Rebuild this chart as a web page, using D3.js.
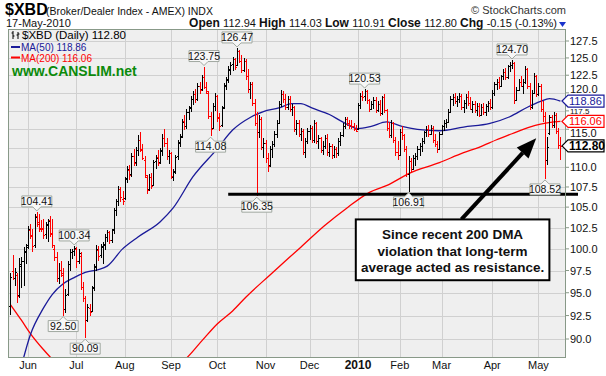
<!DOCTYPE html>
<html><head><meta charset="utf-8">
<script src="https://cdn.jsdelivr.net/npm/d3@7"></script>
<style>body{margin:0;background:#fff}svg{display:block}text{font-family:Arial,"Liberation Sans",sans-serif}</style>
</head><body><svg id="c" width="606" height="376"></svg>
<script>
// ---------- DATA ----------
const startDate = "2009-05-19", endDate = "2010-05-17";
const holidays = ["2009-05-25","2009-07-03","2009-09-07","2009-11-26","2009-12-25","2010-01-01","2010-01-18","2010-02-15","2010-04-02"];
const openP = [
93.5,97.4,96.6,97.0,94.8,98.0,98.6,99.6,100.4,102.2,
101.5,100.4,103.9,103.2,102.4,102.5,101.7,102.8,103.4,101.8,
100.0,99.0,96.6,97.6,97.0,93.2,94.9,98.2,99.6,99.8,
100.0,98.6,99.2,95.6,94.4,92.0,93.3,93.0,95.6,98.0,
99.9,99.3,100.2,100.6,101.4,102.0,101.0,102.3,104.7,105.8,
107.3,106.0,106.1,108.6,109.7,109.1,111.5,110.7,112.3,113.6,
112.3,111.0,108.8,107.2,108.8,107.8,110.8,111.3,110.7,112.2,
113.8,113.2,111.4,111.8,108.8,109.5,111.4,113.3,114.1,116.1,
115.4,117.3,118.0,119.2,119.9,119.1,121.0,120.6,122.3,120.8,
120.0,116.8,115.2,118.2,119.5,116.5,115.6,118.0,121.1,121.9,
123.3,124.1,124.8,124.0,126.0,124.6,123.3,124.6,122.4,120.6,
121.2,118.6,115.8,114.6,116.4,112.6,113.2,111.2,110.3,112.4,
113.1,114.4,115.9,118.5,119.9,119.2,118.1,119.2,117.8,118.0,
115.0,115.8,114.4,114.8,112.0,113.4,114.8,115.2,113.6,115.8,
113.4,113.8,112.2,112.8,113.9,112.0,112.8,111.6,112.4,111.8,
113.4,114.2,115.4,116.4,115.8,115.6,115.4,115.0,115.0,118.3,
119.6,119.5,120.2,119.0,117.8,118.4,119.0,117.6,118.5,117.2,
119.4,117.6,115.2,114.2,115.8,113.6,112.0,111.6,114.6,114.2,
112.4,109.2,110.8,109.8,111.2,111.5,112.4,112.8,113.5,114.6,
115.0,114.4,115.2,113.6,113.0,112.4,114.4,115.4,115.8,116.0,
117.4,119.2,119.4,118.8,119.2,119.6,118.0,118.6,119.4,118.6,
117.8,118.4,117.6,118.2,117.0,118.0,117.4,118.2,118.6,118.0,
120.0,121.2,121.6,121.0,122.4,123.0,122.2,123.8,124.0,124.3,
119.0,120.4,121.6,121.0,121.6,123.4,121.0,118.0,120.0,122.4,
119.8,121.0,117.8,116.8,111.0,114.5,116.6,115.6,116.9,114.8,
112.94];
const highP = [
97.2,99.3,97.8,97.2,98.9,99.0,100.2,100.6,102.7,103.0,
102.3,104.2,104.41,104.1,103.4,103.6,103.2,103.6,103.9,103.5,
100.4,99.6,98.4,98.6,97.8,95.4,98.6,100.0,100.0,100.34,
100.2,100.0,99.6,96.2,94.6,93.8,93.8,95.8,98.2,100.4,
100.3,100.6,100.8,101.8,102.2,102.1,102.4,104.9,106.0,107.6,
107.5,107.0,108.8,110.2,110.3,111.8,112.4,112.6,114.2,114.6,
113.0,111.4,109.0,109.2,109.3,111.0,111.6,112.2,112.5,114.4,
115.0,113.9,112.2,112.0,109.8,111.6,113.6,114.4,116.4,116.9,
117.8,118.2,119.6,120.2,120.6,121.4,121.6,122.5,123.75,121.6,
120.2,117.4,118.6,120.0,119.7,117.2,118.2,121.4,122.2,123.8,
124.4,125.2,125.0,126.47,126.2,125.4,125.0,124.8,123.4,121.6,
121.5,119.2,117.4,117.0,116.6,113.9,113.6,111.8,112.8,113.4,
114.8,116.2,118.8,120.4,120.2,119.8,119.6,119.6,118.4,118.2,
116.2,116.2,115.2,115.0,113.8,115.2,115.6,115.4,116.2,116.0,
114.2,114.0,113.4,114.2,114.4,113.2,113.0,112.8,112.6,113.8,
114.6,115.8,116.7,116.6,116.3,116.2,115.8,115.6,118.6,120.0,
120.3,120.53,120.4,119.2,118.8,119.4,119.4,118.8,119.0,119.6,
119.8,117.8,116.0,116.2,116.0,114.0,113.4,115.0,115.4,114.4,
112.8,111.4,111.2,111.6,111.8,112.8,113.2,113.8,114.8,115.4,
115.6,115.6,115.4,114.4,113.4,114.6,115.6,116.2,116.4,117.8,
119.6,119.8,120.0,119.6,120.0,119.8,119.0,119.8,120.2,119.4,
118.8,118.8,118.6,118.6,118.4,118.6,118.4,118.8,119.2,120.4,
121.6,122.0,122.2,122.6,123.4,123.6,124.0,124.4,124.70,124.4,
120.8,122.0,122.4,122.0,123.9,123.6,121.4,120.4,122.8,122.6,
121.4,121.2,118.8,117.4,114.0,117.0,117.0,117.4,117.2,115.2,
114.03];
const lowP = [
92.6,96.4,95.7,93.9,94.4,95.5,95.8,98.3,100.0,101.1,
99.6,100.1,102.6,102.0,102.0,101.2,101.2,100.8,101.4,100.1,
98.6,96.2,96.0,96.8,92.5,92.8,94.6,97.4,98.8,99.2,
97.8,98.2,95.3,94.0,90.09,91.8,92.4,92.9,95.2,97.4,
98.6,98.9,98.3,99.9,100.8,100.6,100.7,101.8,103.9,105.1,
105.6,105.2,105.9,108.0,108.4,108.7,110.2,110.2,111.4,112.0,
110.9,108.6,106.6,107.0,107.2,107.6,109.8,110.2,110.4,111.5,
112.6,111.0,110.4,108.5,108.2,109.1,111.0,112.6,113.8,114.9,
115.0,116.2,117.4,118.3,118.6,118.8,119.8,120.2,120.5,119.9,
116.4,114.08,115.0,117.5,116.0,114.8,115.3,117.8,120.4,121.4,
122.6,123.1,123.2,123.8,124.2,122.8,122.9,121.8,120.0,119.2,
118.2,115.4,106.35,113.8,112.2,111.2,110.6,109.4,110.0,111.2,
112.6,113.8,115.7,118.0,118.6,117.6,117.6,117.4,116.8,114.6,
114.2,114.0,113.4,111.6,111.2,113.0,113.6,113.2,113.2,113.0,
112.4,111.8,111.6,112.4,111.4,111.3,111.1,111.2,111.2,111.4,
112.8,114.0,115.0,115.4,115.0,115.1,114.8,114.6,114.9,117.8,
118.8,118.9,118.4,117.4,117.6,117.8,117.2,117.3,116.8,117.0,
117.2,114.8,113.8,113.8,113.2,111.4,111.0,111.4,113.6,112.0,
108.8,106.91,109.4,109.6,110.2,111.0,111.4,112.0,113.0,114.0,
114.0,114.2,113.2,112.6,111.8,112.2,114.2,114.8,115.2,115.8,
117.2,118.2,118.4,118.0,118.6,117.6,117.2,117.8,118.2,117.6,
117.2,117.2,116.8,116.6,116.8,117.0,116.8,117.4,117.6,117.8,
119.6,120.4,120.6,120.8,121.8,121.8,122.0,123.0,123.4,118.4,
118.8,120.2,120.8,119.8,121.2,120.6,117.6,117.8,119.8,119.4,
119.6,117.4,116.0,108.52,110.3,114.2,115.2,115.2,114.4,112.4,
110.91];
const closeP = [
96.8,96.6,97.3,94.6,98.2,98.6,99.8,100.2,102.4,101.6,
100.3,103.8,103.0,102.5,102.3,101.6,102.9,103.3,101.9,100.4,
99.0,96.6,97.6,97.2,93.2,94.8,98.2,99.6,99.8,100.1,
98.6,99.5,95.6,94.4,92.0,93.4,92.9,95.5,97.9,100.0,
99.2,100.3,100.5,101.4,102.0,101.0,102.2,104.6,105.7,107.2,
106.2,105.8,108.5,109.8,109.0,111.5,110.6,112.2,113.6,112.4,
111.2,109.0,107.1,108.8,107.6,110.7,111.2,110.6,112.1,113.9,
113.2,111.5,111.8,108.9,109.4,111.3,113.2,114.0,116.0,115.4,
117.4,117.9,119.2,119.8,119.1,121.0,120.4,122.2,120.8,120.2,
116.8,115.0,118.2,119.6,116.6,115.4,117.9,121.0,121.8,123.4,
124.0,124.8,123.7,126.0,124.6,123.2,124.6,122.4,120.6,121.2,
118.6,115.8,114.6,116.4,112.6,113.2,111.2,110.2,112.4,113.0,
114.4,115.8,118.5,119.9,119.2,118.0,119.2,117.8,118.0,115.0,
115.8,114.4,114.8,112.0,113.4,114.8,115.2,113.6,115.8,113.4,
113.8,112.2,112.8,113.9,112.0,112.8,111.6,112.4,111.8,113.4,
114.2,115.4,116.4,115.8,115.6,115.4,115.0,114.8,118.3,119.6,
119.4,120.2,119.0,117.8,118.4,119.0,117.6,118.5,117.2,119.4,
117.6,115.2,114.2,115.8,113.6,112.0,111.6,114.6,114.2,112.4,
109.2,110.8,109.8,111.2,111.5,112.4,112.8,113.5,114.6,115.0,
114.4,115.2,113.6,113.0,112.4,114.4,115.4,115.8,116.0,117.4,
119.2,119.4,118.8,119.2,119.6,118.0,118.6,119.4,118.6,117.8,
118.4,117.6,118.2,117.0,118.0,117.4,118.2,118.6,118.0,120.0,
121.2,121.6,121.0,122.4,123.0,122.2,123.8,124.0,124.3,119.0,
120.4,121.6,121.0,121.6,123.4,121.0,118.0,120.0,122.4,119.8,
121.0,117.8,116.8,111.0,112.6,116.6,115.6,116.9,114.8,112.95,
112.80];

const ma50Dates = ["2009-05-27","2009-06-02","2009-06-10","2009-06-16","2009-06-23","2009-06-30","2009-07-08","2009-07-16","2009-07-22","2009-07-31","2009-08-11","2009-08-25","2009-09-02","2009-09-16","2009-10-01","2009-10-12","2009-10-22","2009-10-30","2009-11-10","2009-11-18","2009-11-24","2009-12-02","2009-12-14","2009-12-22","2010-01-04","2010-01-12","2010-01-22","2010-02-02","2010-02-11","2010-02-26","2010-03-15","2010-03-31","2010-04-14","2010-04-26","2010-05-04","2010-05-10","2010-05-17"];
const ma50Values = [87.2,90.4,93.3,94.8,96.0,96.7,97.3,97.6,98.0,100.0,101.4,103.2,104.9,108.8,112.4,114.9,116.6,117.4,117.9,118.5,118.5,117.9,117.0,116.0,115.1,115.4,116.0,115.4,115.0,114.8,115.3,115.8,116.7,118.0,118.8,119.2,118.86];
const ma200Dates = ["2009-05-19","2009-05-27","2009-06-02","2009-06-10","2009-06-16","2009-07-01","2009-07-23","2009-08-13","2009-08-27","2009-09-11","2009-09-22","2009-10-01","2009-10-12","2009-10-20","2009-11-04","2009-11-24","2009-12-10","2009-12-24","2010-01-11","2010-01-25","2010-02-05","2010-02-26","2010-03-15","2010-03-24","2010-04-06","2010-04-15","2010-04-27","2010-05-04","2010-05-17"];
const ma200Values = [93.7,92.0,90.6,88.9,87.9,85.6,84.6,85.2,86.6,88.0,89.8,91.6,93.0,94.5,97.0,100.2,102.8,104.9,106.8,107.8,109.2,110.6,111.9,112.6,113.6,114.4,115.3,115.7,116.06];

const pivotDates  = ["2009-06-05","2009-06-30","2009-06-23","2009-07-08","2009-09-23","2009-10-14","2009-09-28","2009-10-27","2010-01-07","2010-02-05","2010-04-15","2010-05-06"];
const pivotValues = [104.41,100.34,92.50,90.09,123.75,126.47,114.08,106.35,120.53,106.91,124.70,108.52];
const pivotKinds  = ["high","high","low","low","high","high","low","low","high","low","high","low"];

const monthLabels = ["Jun","Jul","Aug","Sep","Oct","Nov","Dec","2010","Feb","Mar","Apr","May"];
const yTicks = [90,92.5,95,97.5,100,102.5,105,107.5,110,112.5,115,117.5,120,122.5,125,127.5];

const supportStart = "2009-10-08", supportValue = 106.6;
const noteBox = {from:"2009-12-31", to:"2010-05-10", top:103.5, bottom:96.4};
const noteLines = ["Since recent 200 DMA","violation that long-term","average acted as resistance."];
const arrowFrom = ["2010-03-12",103.5], arrowTo = ["2010-04-30",113.8];

// ---------- LAYOUT ----------
const svg = d3.select("#c");
const P = {l:8, t:29, r:566, b:358};
const parse = d3.utcParse("%Y-%m-%d"), fmt = d3.utcFormat("%Y-%m-%d");
const days = [];
for (let d = parse(startDate); d <= parse(endDate); d = d3.utcDay.offset(d,1)) {
  const wd = d.getUTCDay(), s = fmt(d);
  if (wd===0 || wd===6 || holidays.includes(s)) continue;
  days.push(s);
}
const x = d3.scalePoint().domain(days).range([10.4, 560.4]);
const y = d3.scaleLog().domain([90,127.5]).range([339,41]);

svg.append("rect").attr("width",606).attr("height",376).attr("fill","#fff");
svg.append("defs").append("clipPath").attr("id","clip").append("rect")
  .attr("x",P.l).attr("y",P.t).attr("width",P.r-P.l).attr("height",P.b-P.t);
svg.append("rect").attr("x",P.l).attr("y",P.t).attr("width",P.r-P.l).attr("height",P.b-P.t).attr("fill","#efefef");

// grid
const grid = svg.append("g").attr("clip-path","url(#clip)").attr("shape-rendering","crispEdges");
grid.selectAll(".hg").data(yTicks).join("line")
  .attr("x1",P.l).attr("x2",P.r).attr("y1",d=>Math.round(y(d))+0.5).attr("y2",d=>Math.round(y(d))+0.5)
  .attr("stroke","#d0d0d0");
const monthStarts = days.filter((d,i)=> i>0 && d.slice(5,7)!==days[i-1].slice(5,7));
grid.selectAll(".vg").data(monthStarts).join("line")
  .attr("x1",d=>Math.round(x(d))+0.5).attr("x2",d=>Math.round(x(d))+0.5).attr("y1",P.t).attr("y2",P.b)
  .attr("stroke","#d0d0d0");

// month labels
svg.selectAll(".ml").data(monthStarts).join("text")
  .attr("x",d=>x(d)).attr("y",369).attr("text-anchor","middle")
  .attr("font-size",(d,i)=>monthLabels[i]==="2010"?12:11)
  .attr("font-weight",(d,i)=>monthLabels[i]==="2010"?"bold":"normal")
  .attr("fill","#111").text((d,i)=>monthLabels[i]);

// right-axis tags (values shown on the axis)
const tagVals = [ma50Values[ma50Values.length-1], ma200Values[ma200Values.length-1], closeP[closeP.length-1]];
const tagHalf = 6;

// y ticks: labels nudged clear of value tags, hidden if directly under one
svg.selectAll(".yt").data(yTicks).join("line")
  .attr("x1",P.r).attr("x2",P.r+3).attr("y1",d=>y(d)).attr("y2",d=>y(d)).attr("stroke","#889988");
const tickLabels = [];
yTicks.forEach(t=>{
  const ty = y(t); let ly = ty + 4, fs = 11, hide = false;
  const near = tagVals.map(v=>y(v)).filter(c=>Math.abs(c-ty) < 12);
  if (near.some(c=>Math.abs(c-ty) < 5)) hide = true;
  else if (near.length === 2) {            // squeezed between two tags
    const top = Math.min(...near) + tagHalf, bot = Math.max(...near) - tagHalf;
    fs = 8; ly = (top + bot)/2 + 3;
  } else if (near.length === 1) {
    const c = near[0];
    if (ty < c) ly = Math.min(ly, c - tagHalf - 2.5);
    else ly = Math.max(ly, c + tagHalf + 10);
  }
  if (!hide) tickLabels.push({t, ly, fs});
});
svg.selectAll(".yl").data(tickLabels).join("text")
  .attr("x",570).attr("y",d=>d.ly).attr("font-size",d=>d.fs).attr("fill","#111")
  .text(d=>d.t.toFixed(1));

// plot content
const g = svg.append("g").attr("clip-path","url(#clip)");

// MA lines
const line = d3.line().x(d=>x(d[0])).y(d=>y(d[1])).curve(d3.curveMonotoneX);
g.append("path").datum(ma200Dates.map((d,i)=>[d,ma200Values[i]])).attr("d",line)
  .attr("fill","none").attr("stroke","#ff0000").attr("stroke-width",1.3);
g.append("path").datum(ma50Dates.map((d,i)=>[d,ma50Values[i]])).attr("d",line)
  .attr("fill","none").attr("stroke","#1a1a99").attr("stroke-width",1.3);

// bars
const bars = g.append("g").attr("shape-rendering","crispEdges");
days.forEach((d,i)=>{
  const c = (i===0 || closeP[i] >= closeP[i-1]) ? "#000" : "#ff0000";
  const xi = Math.round(x(d)) + 0.5;
  bars.append("line").attr("x1",xi).attr("x2",xi).attr("y1",y(highP[i])).attr("y2",y(lowP[i])).attr("stroke",c);
  bars.append("line").attr("x1",xi-1.5).attr("x2",xi).attr("y1",Math.round(y(openP[i]))+0.5).attr("y2",Math.round(y(openP[i]))+0.5).attr("stroke",c);
  bars.append("line").attr("x1",xi).attr("x2",xi+1.5).attr("y1",Math.round(y(closeP[i]))+0.5).attr("y2",Math.round(y(closeP[i]))+0.5).attr("stroke",c);
});

// support line
svg.append("line").attr("x1",x(supportStart)).attr("x2",P.r+12)
  .attr("y1",y(supportValue)).attr("y2",y(supportValue)).attr("stroke","#000").attr("stroke-width",3);

// pivot labels
pivotDates.forEach((d,i)=>{
  const v = pivotValues[i], px = x(d), py = y(v), w = 30, h = 11;
  const grp = svg.append("g");
  if (pivotKinds[i]==="high") {
    const b = py - 5, t = b - h;
    grp.append("path").attr("d",`M${px-w/2},${t}H${px+w/2}V${b}H${px+4}L${px},${b+4}L${px-4},${b}H${px-w/2}Z`)
      .attr("fill","#f7f7f7").attr("stroke","#a0a8a0");
    grp.append("text").attr("x",px).attr("y",b-2).attr("text-anchor","middle").attr("font-size",10.5).attr("fill","#111").text(v.toFixed(2));
  } else {
    const t = py + 5, b = t + h;
    grp.append("path").attr("d",`M${px-w/2},${t}H${px-4}L${px},${t-4}L${px+4},${t}H${px+w/2}V${b}H${px-w/2}Z`)
      .attr("fill","#f7f7f7").attr("stroke","#a0a8a0");
    grp.append("text").attr("x",px).attr("y",b-2).attr("text-anchor","middle").attr("font-size",10.5).attr("fill","#111").text(v.toFixed(2));
  }
});

// frame
svg.append("rect").attr("x",P.l+0.5).attr("y",P.t+0.5).attr("width",P.r-P.l-1).attr("height",P.b-P.t-1)
  .attr("fill","none").attr("stroke","#889988");

// right axis tags
function tag(v, col, bold){
  const cy = y(v), tx = 562;
  svg.append("path").attr("d",`M${tx},${cy}L${tx+6},${cy-tagHalf}H${604}V${cy+tagHalf}H${tx+6}Z`)
    .attr("fill","#fff").attr("stroke",col).attr("stroke-width",1.2);
  svg.append("text").attr("x",569).attr("y",cy+4).attr("font-size",bold?12:11)
    .attr("font-weight",bold?"bold":"normal").attr("fill",col).text(v.toFixed(2));
}
tag(tagVals[0], "#1a1a99", false);
tag(tagVals[1], "#ff0000", false);
tag(tagVals[2], "#000", true);

// annotation box + arrow
const bx1 = x(noteBox.from), bx2 = x(noteBox.to), by1 = y(noteBox.top), by2 = y(noteBox.bottom);
const ax1 = x(arrowFrom[0]), ay1 = y(arrowFrom[1]), ax2 = x(arrowTo[0]), ay2 = y(arrowTo[1]);
const ang = Math.atan2(ay2-ay1, ax2-ax1), L = 20, Wd = 8;
const bx = ax2 - L*Math.cos(ang), byy = ay2 - L*Math.sin(ang);
svg.append("line").attr("x1",ax1).attr("y1",ay1).attr("x2",bx).attr("y2",byy).attr("stroke","#000").attr("stroke-width",4);
svg.append("path").attr("d",`M${ax2},${ay2}L${bx+Wd*Math.sin(ang)},${byy-Wd*Math.cos(ang)}L${bx-Wd*Math.sin(ang)},${byy+Wd*Math.cos(ang)}Z`).attr("fill","#000");
svg.append("rect").attr("x",bx1).attr("y",by1).attr("width",bx2-bx1).attr("height",by2-by1)
  .attr("fill","#fff").attr("stroke","#000").attr("stroke-width",2);
noteLines.forEach((t,i)=>{
  svg.append("text").attr("x",(bx1+bx2)/2).attr("y",by1+20+i*16.5).attr("text-anchor","middle")
    .attr("font-size",13.5).attr("font-weight","bold").attr("fill","#111").text(t);
});

// legend
const lg = svg.append("g");
lg.append("path").attr("d","M13,31V39M11.5,33H13M13,36H14.5M18,32V39M16.5,35H18M18,34H19.5").attr("stroke","#000").attr("fill","none");
lg.append("text").attr("x",22).attr("y",39).attr("font-size",11.5).attr("fill","#000").text("$XBD (Daily) 112.80");
lg.append("line").attr("x1",11).attr("x2",20).attr("y1",47).attr("y2",47).attr("stroke","#1a1a99").attr("stroke-width",2);
lg.append("text").attr("x",21).attr("y",51).attr("font-size",10).attr("fill","#1a1a99").text("MA(50) " + ma50Values[ma50Values.length-1].toFixed(2));
lg.append("line").attr("x1",11).attr("x2",20).attr("y1",57.5).attr("y2",57.5).attr("stroke","#ff0000").attr("stroke-width",2);
lg.append("text").attr("x",21).attr("y",61.5).attr("font-size",10).attr("fill","#ff0000").text("MA(200) " + ma200Values[ma200Values.length-1].toFixed(2));
lg.append("text").attr("x",12).attr("y",76).attr("font-size",14).attr("font-weight","bold").attr("fill","#0b8a0b").text("www.CANSLIM.net");

// header
svg.append("text").attr("x",5).attr("y",15).attr("font-size",16).attr("font-weight","bold").attr("fill","#000").text("$XBD");
svg.append("text").attr("x",46).attr("y",15).attr("font-size",10.5).attr("fill","#111").text("(Broker/Dealer Index - AMEX) INDX");
svg.append("text").attr("x",566).attr("y",14).attr("text-anchor","end").attr("font-size",11).attr("fill","#333").text("© StockCharts.com");
svg.append("text").attr("x",6).attr("y",27).attr("font-size",11).attr("fill","#111").text("17-May-2010");
const hd = svg.append("text").attr("x",557).attr("y",27).attr("text-anchor","end").attr("font-size",11).attr("fill","#111");
[["Open ",1],["112.94 ",0],["High ",1],["114.03 ",0],["Low ",1],["110.91 ",0],["Close ",1],["112.80 ",0],["Chg ",1],["-0.15 (-0.13%)",0]]
  .forEach(([t,b])=>hd.append("tspan").attr("font-weight",b?"bold":"normal").attr("font-size",b?12:11).text(t));
svg.append("path").attr("d","M559,22H566L562.5,27Z").attr("fill","#1a33cc");
</script></body></html>
